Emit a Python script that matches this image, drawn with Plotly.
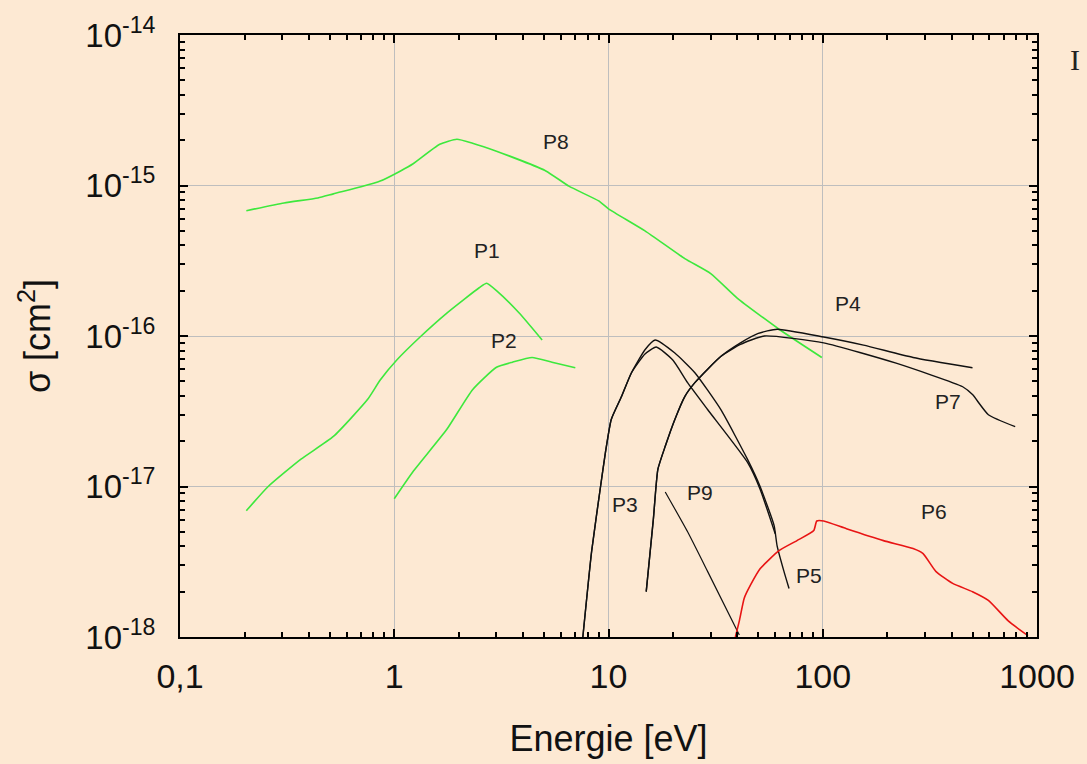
import numpy as np
import plotly.graph_objects as go

# ---------------- data (energy in eV, cross-section in cm^2) ----------------
p8_x = [0.204, 0.306, 0.44, 0.52, 0.70, 0.86, 1.07, 1.22, 1.63, 1.96, 2.32, 3.0, 5.1, 6.53, 9.0, 10.0, 14.8, 22.7, 30, 40, 63, 99]
p8_y = [6.8e-16, 7.66e-16, 8.26e-16, 8.8e-16, 9.8e-16, 1.07e-15, 1.25e-15, 1.39e-15, 1.88e-15, 2.03e-15, 1.91e-15,
        1.69e-15, 1.25e-15, 9.9e-16, 7.9e-16, 7.0e-16, 5.0e-16, 3.27e-16, 2.6e-16, 1.78e-16, 1.1e-16, 7.2e-17]

p1_x = [0.204, 0.258, 0.367, 0.52, 0.75, 0.86, 1.03, 1.32, 1.76, 2.5, 2.7, 3.0, 3.83, 4.9]
p1_y = [6.9e-18, 1.0e-17, 1.52e-17, 2.15e-17, 3.78e-17, 5.1e-17, 6.95e-17, 9.85e-17, 1.42e-16, 2.1e-16, 2.24e-16,
        2.0e-16, 1.42e-16, 9.4e-17]

p2_x = [1.0, 1.22, 1.76, 2.32, 3.0, 3.56, 4.4, 5.45, 7.0]
p2_y = [8.3e-18, 1.25e-17, 2.4e-17, 4.4e-17, 6.2e-17, 6.7e-17, 7.2e-17, 6.7e-17, 6.15e-17]

p3_x = [7.59, 8.34, 9.18, 9.68, 10.3, 11.5, 12.8, 14.8, 16.7, 20.0, 23.4, 29, 44.5, 51, 60]
p3_y = [1.0e-18, 3.7e-18, 1.0e-17, 1.69e-17, 2.79e-17, 3.96e-17, 5.7e-17, 7.6e-17, 8.45e-17, 6.9e-17, 4.9e-17,
        3.25e-17, 1.45e-17, 9.6e-18, 4.85e-18]

p5_x = [7.59, 8.34, 9.18, 9.68, 10.3, 11.5, 12.8, 14.8, 16.5, 20.4, 25.3, 33.4, 44.5, 51, 59.3, 61.2, 65.9, 69.6]
p5_y = [1.0e-18, 3.7e-18, 1.0e-17, 1.69e-17, 2.79e-17, 3.96e-17, 5.7e-17, 8.1e-17, 9.4e-17, 7.7e-17, 5.7e-17,
        3.25e-17, 1.52e-17, 1.0e-17, 5.5e-18, 4.05e-18, 2.73e-18, 2.1e-18]

p4_x = [15.0, 16.2, 17.0, 18.4, 20.4, 22.7, 25.3, 33.4, 41.3, 50, 61.2, 101, 155, 264, 500]
p4_y = [2.0e-18, 6.1e-18, 1.3e-17, 1.85e-17, 2.79e-17, 3.96e-17, 4.9e-17, 7.3e-17, 9.0e-17, 1.04e-16, 1.11e-16,
        9.85e-17, 8.7e-17, 7.2e-17, 6.15e-17]

p7_x = [15.0, 16.2, 17.0, 18.4, 20.4, 22.7, 25.3, 33.4, 41.3, 53.3, 101, 220, 450, 500, 593, 791]
p7_y = [2.0e-18, 6.1e-18, 1.3e-17, 1.85e-17, 2.79e-17, 3.96e-17, 4.9e-17, 7.3e-17, 8.8e-17, 1.0e-16, 9.0e-17,
        6.6e-17, 4.6e-17, 4.08e-17, 3.0e-17, 2.5e-17]

p9_x = [18.4, 23.4, 29, 40.8]
p9_y = [9.2e-18, 5.0e-18, 2.73e-18, 1.03e-18]

p6_x = [39.1, 40.8, 43, 45.9, 51.1, 62.5, 75.8, 90.8, 93.8, 101, 129, 192, 264, 294, 337, 404, 500, 593, 734, 908]
p6_y = [1.0e-18, 1.28e-18, 1.81e-18, 2.2e-18, 2.85e-18, 3.75e-18, 4.37e-18, 5.1e-18, 5.9e-18, 5.9e-18, 5.24e-18,
        4.37e-18, 3.87e-18, 3.58e-18, 2.73e-18, 2.27e-18, 2.0e-18, 1.75e-18, 1.28e-18, 1.02e-18]

label_names = ["P8", "P1", "P2", "P4", "P7", "P3", "P9", "P5", "P6"]
label_x = [5.69, 2.70, 3.27, 130.7, 383, 12.0, 26.7, 86.1, 330]
label_y = [1.97e-15, 3.7e-16, 9.4e-17, 1.65e-16, 3.66e-17, 7.65e-18, 9.06e-18, 2.56e-18, 6.8e-18]

x_tickvals = [0.1, 1, 10, 100, 1000]
x_ticktext = ["0,1", "1", "10", "100", "1000"]
y_tickvals = [1e-18, 1e-17, 1e-16, 1e-15, 1e-14]
y_ticktext = ["10<sup>-18</sup>", "10<sup>-17</sup>", "10<sup>-16</sup>", "10<sup>-15</sup>", "10<sup>-14</sup>"]

# ---------------- styling ----------------
BG = "#FDE9D3"
GREEN = "#3DE83D"
BLACK = "#111111"
RED = "#E81414"
FONT = "Liberation Sans, Arial, sans-serif"

fig = go.Figure()
series = [
    (p8_x, p8_y, GREEN, 1.6), (p1_x, p1_y, GREEN, 1.6), (p2_x, p2_y, GREEN, 1.6),
    (p3_x, p3_y, BLACK, 1.4), (p5_x, p5_y, BLACK, 1.4),
    (p4_x, p4_y, BLACK, 1.4), (p7_x, p7_y, BLACK, 1.4),
    (p9_x, p9_y, BLACK, 1.2), (p6_x, p6_y, RED, 1.6),
]
for xs, ys, col, w in series:
    fig.add_trace(go.Scatter(x=xs, y=ys, mode="lines",
                             line=dict(color=col, width=w, shape="spline", smoothing=0.5),
                             showlegend=False, hoverinfo="skip", cliponaxis=True))

for name, lx, ly in zip(label_names, label_x, label_y):
    fig.add_annotation(x=np.log10(lx), y=np.log10(ly), xref="x", yref="y", text=name,
                       showarrow=False, font=dict(family=FONT, size=21, color="#222222"))

# letter at the right edge of the page
fig.add_annotation(x=(1087 - 180) / 862, y=(639 - 58) / 606, xref="paper", yref="paper",
                   text="I", showarrow=False, xanchor="right", yanchor="middle",
                   font=dict(family="Liberation Serif, serif", size=30, color="#222222"))

minor_x = [m * d for d in (0.1, 1, 10, 100) for m in range(2, 10)]
minor_y = [m * d for d in (1e-18, 1e-17, 1e-16, 1e-15) for m in range(2, 10)]

fig.update_xaxes(type="log", range=[-1, 3], tickvals=x_tickvals, ticktext=x_ticktext,
                 showline=True, linecolor="black", linewidth=2, mirror="ticks",
                 ticks="inside", ticklen=8, tickwidth=2, tickcolor="black",
                 showgrid=True, gridcolor="#BEBEBE", gridwidth=1, zeroline=False,
                 minor=dict(tickvals=minor_x, ticks="inside", ticklen=5, tickwidth=1.5,
                            tickcolor="black", showgrid=False),
                 tickfont=dict(family=FONT, size=34, color="#111111"),
                 ticklabelstandoff=8,
                 title=dict(text="Energie [eV]", font=dict(family=FONT, size=36, color="#111111"),
                            standoff=32))
fig.update_yaxes(type="log", range=[-18, -14], tickvals=y_tickvals, ticktext=y_ticktext,
                 showline=True, linecolor="black", linewidth=2, mirror="ticks",
                 ticks="inside", ticklen=8, tickwidth=2, tickcolor="black",
                 showgrid=True, gridcolor="#BEBEBE", gridwidth=1, zeroline=False,
                 minor=dict(tickvals=minor_y, ticks="inside", ticklen=5, tickwidth=1.5,
                            tickcolor="black", showgrid=False),
                 tickfont=dict(family=FONT, size=33, color="#111111"),
                 ticklabelstandoff=16,
                 title=dict(text="σ [cm<sup>2</sup>]", font=dict(family=FONT, size=36, color="#111111"),
                            standoff=24))

fig.update_layout(width=1087, height=764, paper_bgcolor=BG, plot_bgcolor=BG,
                  margin=dict(l=180, r=45, t=33, b=125), showlegend=False)

fig.write_html("out.html")
